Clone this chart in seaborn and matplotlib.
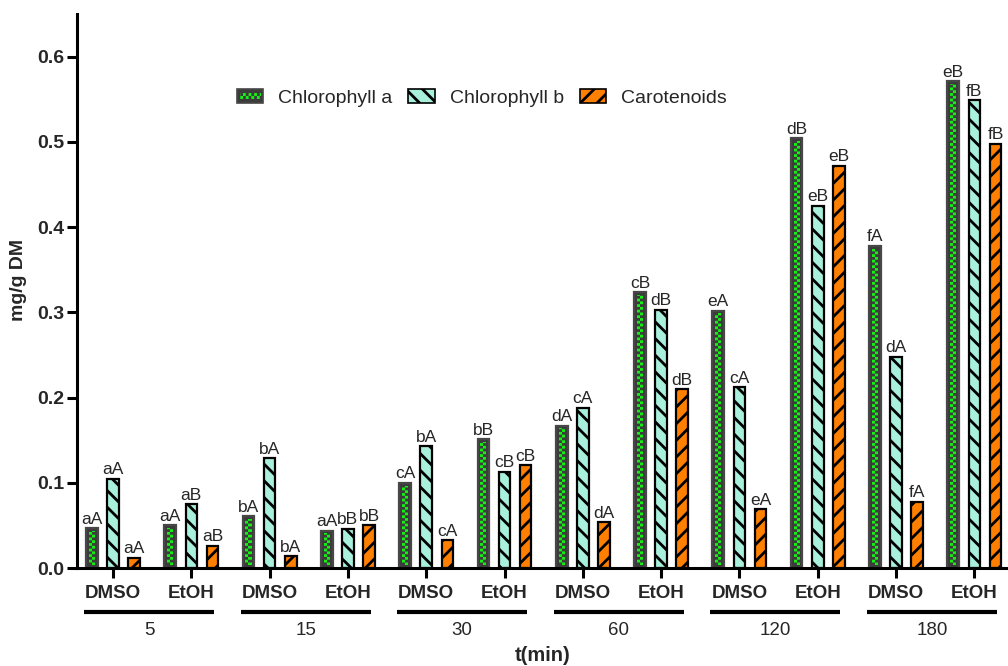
import matplotlib
matplotlib.use("Agg")
import matplotlib.pyplot as plt
import matplotlib.transforms as mtransforms
from matplotlib.patches import Rectangle, Patch
from matplotlib.legend_handler import HandlerBase
import pandas as pd
import seaborn as sns

# ---- data -------------------------------------------------------------
times = ["5", "15", "30", "60", "120", "180"]
solvents = ["DMSO", "EtOH"]
pigments = ["Chlorophyll a", "Chlorophyll b", "Carotenoids"]

# order: 5-DMSO, 5-EtOH, 15-DMSO, 15-EtOH, ... 180-EtOH  (mg/g DM)
chl_a = [0.047, 0.050, 0.061, 0.044, 0.100, 0.151, 0.167, 0.324, 0.302, 0.504, 0.378, 0.571]
chl_b = [0.105, 0.075, 0.129, 0.046, 0.143, 0.113, 0.188, 0.303, 0.212, 0.425, 0.248, 0.549]
carot = [0.012, 0.026, 0.014, 0.050, 0.033, 0.121, 0.054, 0.210, 0.069, 0.472, 0.078, 0.498]

letters_a = ["aA", "aA", "bA", "aA", "cA", "bB", "dA", "cB", "eA", "dB", "fA", "eB"]
letters_b = ["aA", "aB", "bA", "bB", "bA", "cB", "cA", "dB", "cA", "eB", "dA", "fB"]
letters_c = ["aA", "aB", "bA", "bB", "cA", "cB", "dA", "dB", "eA", "eB", "fA", "fB"]

yticks = [0.0, 0.1, 0.2, 0.3, 0.4, 0.5, 0.6]

# ---- tidy table -------------------------------------------------------
conditions = [f"{t} {s}" for t in times for s in solvents]
rows = []
for pig, vals in zip(pigments, [chl_a, chl_b, carot]):
    for cond, v in zip(conditions, vals):
        rows.append({"condition": cond, "pigment": pig, "value": v})
df = pd.DataFrame(rows)

# ---- style ------------------------------------------------------------
sns.set_style("ticks")
plt.rcParams["font.family"] = ["Liberation Sans", "DejaVu Sans"]
plt.rcParams["hatch.linewidth"] = 2.0

GRAY = "#3b3b3b"
EDGE_GRAY = "#474747"
GREEN = "#14f014"
AQUA = "#a8f0dc"
ORANGE = "#ff8000"

fig = plt.figure(figsize=(10.08, 6.66), dpi=100)
ax = fig.add_axes([0.0764, 0.1471, 0.9236, 0.8318])

sns.barplot(data=df, x="condition", y="value", hue="pigment",
            order=conditions, hue_order=pigments,
            palette=[GRAY, AQUA, ORANGE], width=0.81, gap=0.45,
            errorbar=None, legend=False, ax=ax)

styles = [
    dict(fc=GRAY, ec=EDGE_GRAY, hatch=None),
    dict(fc=AQUA, ec="black", hatch="\\\\"),
    dict(fc=ORANGE, ec="black", hatch="//"),
]
for cont, st in zip(ax.containers, styles):
    for p in cont:
        p.set_facecolor(st["fc"])
        p.set_edgecolor(st["ec"])
        p.set_linewidth(1.6)
        if st["hatch"]:
            p.set_hatch(st["hatch"])

# checkered green core of the chlorophyll a bars: two half-columns with
# opposite phase of the same horizontal hatch
inv = ax.transData.inverted()
inset = inv.transform((0, 3))[1] - inv.transform((0, 0))[1]
for p in ax.containers[0]:
    x, w, h = p.get_x(), p.get_width(), p.get_height()
    hh = max(h - 2 * inset, 0)
    cw = w * 0.26
    z = p.get_zorder() + 0.1
    ax.add_patch(Rectangle((x + w * 0.5 - cw, inset), cw, hh, facecolor=GREEN,
                           edgecolor=GRAY, hatch="---", lw=0, zorder=z))
    ax.add_patch(Rectangle((x + w * 0.5, inset), cw, hh, facecolor=GRAY,
                           edgecolor=GREEN, hatch="---", lw=0, zorder=z))

# significance letters
for cont, labs in zip(ax.containers, [letters_a, letters_b, letters_c]):
    ax.bar_label(cont, labels=labs, padding=1, fontsize=12.5)

# ---- axes -------------------------------------------------------------
ax.set_ylim(0, 0.65)
ax.set_xlim(-0.46, 11.43)
ax.set_yticks(yticks)
ax.set_yticklabels([f"{v:.1f}" for v in yticks], fontsize=14, fontweight="bold")
ax.set_xticks(range(len(conditions)))
ax.set_xticklabels(solvents * len(times), fontsize=13.5, fontweight="bold")
ax.tick_params(axis="y", length=7, width=2.2, pad=2, color="black")
ax.tick_params(axis="x", length=7, width=2.2, pad=5, color="black")
for side in ["left", "bottom"]:
    ax.spines[side].set_linewidth(2.2)
    ax.spines[side].set_color("black")
sns.despine(ax=ax)

ax.set_ylabel("mg/g DM", fontsize=14, fontweight="bold")
ax.yaxis.set_label_coords(-0.054, 0.52)
ax.set_xlabel("t(min)", fontsize=14.5, fontweight="bold")
ax.xaxis.set_label_coords(0.5, -0.141)

# time groups: underline + label
blend = mtransforms.blended_transform_factory(ax.transData, ax.transAxes)
for k, t in enumerate(times):
    x0 = 2 * k
    ax.plot([x0 - 0.37, x0 + 1.29], [-0.0794, -0.0794], transform=blend,
            color="black", lw=3, clip_on=False, solid_capstyle="butt")
    ax.text(x0 + 0.46, -0.112, t, transform=blend, ha="center", va="center",
            fontsize=13.5)


# ---- legend -----------------------------------------------------------
class CheckerHandler(HandlerBase):
    """Gray key box with a row of green/gray checks across its middle."""

    def create_artists(self, legend, orig_handle, xdescent, ydescent,
                       width, height, fontsize, trans):
        x0, y0 = -xdescent, -ydescent
        box = Rectangle((x0, y0), width, height, facecolor=GRAY,
                        edgecolor=EDGE_GRAY, lw=1.2, transform=trans)
        band = height * 0.22
        top = Rectangle((x0 + 2, y0 + height / 2), width - 4, band,
                        facecolor=GREEN, edgecolor=GRAY, hatch="|||", lw=0,
                        transform=trans)
        bot = Rectangle((x0 + 2, y0 + height / 2 - band), width - 4, band,
                        facecolor=GRAY, edgecolor=GREEN, hatch="|||", lw=0,
                        transform=trans)
        return [box, top, bot]


h_a = Patch(facecolor=GRAY, edgecolor=EDGE_GRAY)
h_b = Patch(facecolor=AQUA, edgecolor="black", hatch="\\\\", lw=1.2)
h_c = Patch(facecolor=ORANGE, edgecolor="black", hatch="//", lw=1.2)
fig.legend([h_a, h_b, h_c], pigments, loc="center",
           bbox_to_anchor=(0.478, 0.853), ncol=3, frameon=False,
           fontsize=14, handlelength=1.34, handletextpad=0.77,
           columnspacing=0.82, handler_map={h_a: CheckerHandler()})

fig.savefig("out.png", dpi=100)
